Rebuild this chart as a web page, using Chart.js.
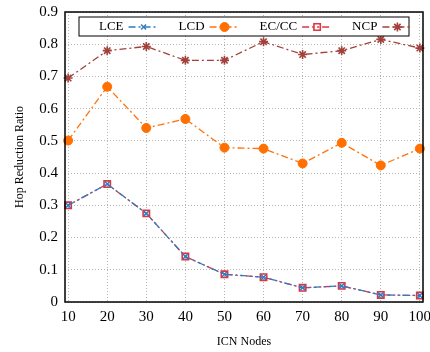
<!DOCTYPE html>
<html>
<head>
<meta charset="utf-8">
<script src="https://cdn.jsdelivr.net/npm/chart.js@4"></script>
<style>
  html, body { margin: 0; padding: 0; background: #fff; }
  #wrap { width: 430px; height: 352px; }
</style>
</head>
<body>
<div id="wrap"><canvas id="grafico"></canvas></div>
<script>
// dados
const nodes = [10, 20, 30, 40, 50, 60, 70, 80, 90, 100];
const lce  = [0.300, 0.366, 0.275, 0.141, 0.086, 0.077, 0.044, 0.050, 0.022, 0.020];
const lcd  = [0.501, 0.668, 0.540, 0.568, 0.479, 0.476, 0.430, 0.494, 0.424, 0.476];
const eccc = [0.300, 0.366, 0.275, 0.141, 0.086, 0.077, 0.044, 0.050, 0.022, 0.020];
const ncp  = [0.695, 0.780, 0.793, 0.750, 0.750, 0.808, 0.768, 0.780, 0.815, 0.788];
const yTicks = [0, 0.1, 0.2, 0.3, 0.4, 0.5, 0.6, 0.7, 0.8, 0.9];

const serif = "'Liberation Serif', 'DejaVu Serif', serif";

function pontos(valores) {
    return nodes.map((n, i) => ({ x: n, y: valores[i] }));
}

// moldura em volta da área do gráfico
const moldura = {
    id: "moldura",
    afterDatasetsDraw(chart) {
        const { ctx, chartArea: a } = chart;
        ctx.save();
        ctx.strokeStyle = "#000";
        ctx.lineWidth = 1.5;
        ctx.strokeRect(a.left, a.top, a.right - a.left, a.bottom - a.top);
        ctx.restore();
    }
};

// legenda no estilo matlab: texto e depois a linha com o marcador
const legenda = {
    id: "legenda",
    afterDraw(chart) {
        const { ctx, chartArea: a } = chart;
        const left = a.left + 14, top = a.top + 5;
        const width = a.right - a.left - 28, height = 19;
        ctx.save();
        ctx.fillStyle = "#fff";
        ctx.fillRect(left, top, width, height);
        ctx.strokeStyle = "#000";
        ctx.lineWidth = 1;
        ctx.strokeRect(left, top, width, height);
        ctx.font = "13px " + serif;
        ctx.textBaseline = "middle";
        const cy = top + height / 2 + 0.5;
        let x = left + 20;
        chart.data.datasets.forEach(ds => {
            ctx.fillStyle = "#000";
            ctx.fillText(ds.label, x, cy);
            x += ctx.measureText(ds.label).width + 5;
            ctx.strokeStyle = ds.borderColor;
            ctx.lineWidth = 1.5;
            ctx.setLineDash(ds.borderDash);
            ctx.beginPath();
            ctx.moveTo(x, cy);
            ctx.lineTo(x + 30, cy);
            ctx.stroke();
            ctx.setLineDash([]);
            ctx.fillStyle = ds.pointBackgroundColor;
            ctx.strokeStyle = ds.pointBorderColor;
            ctx.lineWidth = ds.pointBorderWidth;
            Chart.helpers.drawPoint(ctx, {
                pointStyle: ds.pointStyle,
                radius: ds.pointRadius,
                rotation: 0,
                borderWidth: ds.pointBorderWidth
            }, x + 15, cy);
            x += 30 + 20;
        });
        ctx.restore();
    }
};

const ctx = document.getElementById("grafico").getContext("2d");
new Chart(ctx, {
    type: "line",
    data: {
        datasets: [
            {
                label: "LCE",
                data: pontos(lce),
                borderColor: "#2F7CC0",
                borderWidth: 1.3,
                borderDash: [7, 3, 2, 3],
                pointStyle: "crossRot",
                pointRadius: 3.5,
                pointBorderWidth: 1.5,
                pointBackgroundColor: "#2F7CC0",
                pointBorderColor: "#2F7CC0",
                fill: false,
                clip: false
            },
            {
                label: "LCD",
                data: pontos(lcd),
                borderColor: "#FF7310",
                borderWidth: 1.3,
                borderDash: [7, 3, 2, 3],
                pointStyle: "circle",
                pointRadius: 4.5,
                pointBorderWidth: 1,
                pointBackgroundColor: "#FF7000",
                pointBorderColor: "#FF7000",
                fill: false,
                clip: false
            },
            {
                label: "EC/CC",
                data: pontos(eccc),
                borderColor: "#E0343F",
                borderWidth: 1.3,
                borderDash: [7, 3, 2, 3, 2, 3],
                borderDashOffset: 4,
                pointStyle: "rect",
                pointRadius: 4.5,
                pointBorderWidth: 1.6,
                pointBackgroundColor: "rgba(0,0,0,0)",
                pointBorderColor: "#E0343F",
                fill: false,
                clip: false
            },
            {
                label: "NCP",
                data: pontos(ncp),
                borderColor: "#A2413B",
                borderWidth: 1.3,
                borderDash: [7, 3, 2, 3],
                pointStyle: "star",
                pointRadius: 4.5,
                pointBorderWidth: 1.6,
                pointBackgroundColor: "#A2413B",
                pointBorderColor: "#A2413B",
                fill: false,
                clip: false
            }
        ]
    },
    options: {
        responsive: true,
        maintainAspectRatio: false,
        animation: false,
        layout: { padding: { top: 12, right: 7, left: 0, bottom: 0 } },
        plugins: {
            legend: { display: false },
            tooltip: { enabled: false }
        },
        scales: {
            x: {
                type: "linear",
                min: 9.2,
                max: 100.8,
                afterBuildTicks: scale => { scale.ticks = nodes.map(v => ({ value: v })); },
                afterFit: scale => {
                    scale.height = 50;
                    scale.paddingLeft = 0;
                    scale.paddingRight = 0;
                },
                grid: { color: "#b5b5b5", lineWidth: 1, drawTicks: false },
                border: { display: false, dash: [1, 2] },
                ticks: {
                    color: "#000",
                    padding: 6,
                    maxRotation: 0,
                    autoSkip: false,
                    font: { family: serif, size: 15 },
                    callback: v => String(v)
                },
                title: {
                    display: true,
                    text: "ICN Nodes",
                    color: "#000",
                    font: { family: serif, size: 12 },
                    padding: { top: 0, bottom: 3 }
                }
            },
            y: {
                min: 0,
                max: 0.9,
                afterBuildTicks: scale => { scale.ticks = yTicks.map(v => ({ value: v })); },
                afterFit: scale => {
                    scale.width = 65;
                    scale.paddingTop = 0;
                    scale.paddingBottom = 0;
                },
                grid: { color: "#b5b5b5", lineWidth: 1, drawTicks: false },
                border: { display: false, dash: [1, 2] },
                ticks: {
                    color: "#000",
                    padding: 7,
                    font: { family: serif, size: 15 },
                    callback: v => v === 0 ? "0" : v.toFixed(1)
                },
                title: {
                    display: true,
                    text: "Hop Reduction Ratio",
                    color: "#000",
                    font: { family: serif, size: 12 },
                    padding: { top: 13, bottom: 0 }
                }
            }
        }
    },
    plugins: [moldura, legenda]
});
</script>
</body>
</html>
